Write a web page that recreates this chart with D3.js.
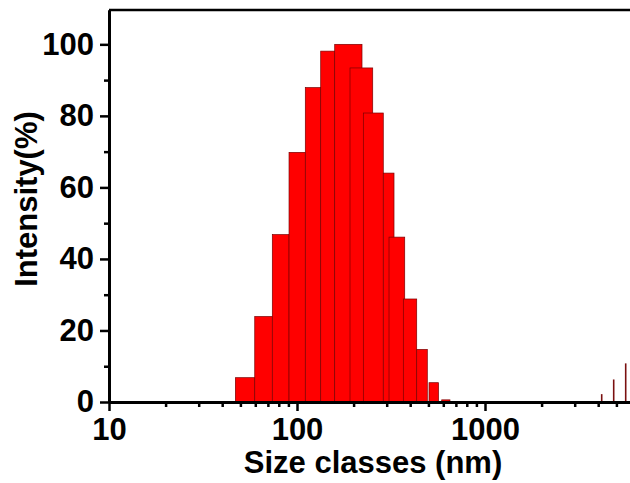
<!DOCTYPE html>
<html>
<head>
<meta charset="utf-8">
<style>
  html, body { margin: 0; padding: 0; background: #fff; }
  svg { display: block; }
  text { font-family: "Liberation Sans", Arial, sans-serif; font-weight: bold; }
</style>
</head>
<body>
<div id="chart"></div>
<script src="https://cdn.jsdelivr.net/npm/d3@7/dist/d3.min.js"></script>
<script>
// size bins (nm): left edge, right edge, intensity (%)
var binLo = [47, 59.6, 73.9, 90.7, 110.7, 133.7, 158.7, 191.4, 225.3, 287.7, 308.6, 367.7, 433.3, 503.7, 588.4];
var binHi = [59.6, 73.9, 90.7, 110.7, 133.7, 158.7, 221.7, 252.8, 287.7, 328.1, 374.1, 433.3, 493.3, 565.8, 651.3];
var intensity = [6.8, 23.9, 46.8, 69.8, 87.9, 98.1, 100, 93.4, 80.8, 64.0, 46.1, 28.8, 14.7, 5.4, 0.6];

// the thin spikes at large sizes
var spikeSize = [4176, 4837, 5603];
var spikeVal = [2.2, 6.3, 10.8];

var xMajor = [10, 100, 1000];
var xMinor = [20, 30, 40, 50, 60, 70, 80, 90, 200, 300, 400, 500, 600, 700, 800, 900,
              2000, 3000, 4000, 5000, 6000, 7000, 8000, 9000];
var yMajor = [0, 20, 40, 60, 80, 100];
var yMinor = [10, 30, 50, 70, 90];

var width = 630, height = 483;

var svg = d3.select("#chart").append("svg")
    .attr("width", width)
    .attr("height", height);

// log x axis: one decade = 188px, plot runs on past the right edge
var x = d3.scaleLog().domain([10, 10000]).range([109, 673]);
var y = d3.scaleLinear().domain([0, 109.6]).range([402, 10]);

var bins = binLo.map(function(lo, i) {
  return { lo: lo, hi: binHi[i], v: intensity[i] };
});

svg.append("g")
    .selectAll("rect")
    .data(bins)
    .enter().append("rect")
    .attr("x", function(d) { return x(d.lo); })
    .attr("width", function(d) { return x(d.hi) - x(d.lo); })
    .attr("y", function(d) { return y(d.v); })
    .attr("height", function(d) { return y(0) - y(d.v); })
    .attr("fill", "#ff0000")
    .attr("stroke", "#7a0000")
    .attr("stroke-width", 0.7);

svg.append("g")
    .selectAll("line")
    .data(spikeSize)
    .enter().append("line")
    .attr("x1", function(d) { return x(d); })
    .attr("x2", function(d) { return x(d); })
    .attr("y1", y(0))
    .attr("y2", function(d, i) { return y(spikeVal[i]); })
    .attr("stroke", "#7a1010")
    .attr("stroke-width", 1.6);

// top frame line
svg.append("line")
    .attr("x1", x(10)).attr("x2", x(10000))
    .attr("y1", y(109.6)).attr("y2", y(109.6))
    .attr("stroke", "#000")
    .attr("stroke-width", 2.5);

// x axis
var xMinorAxis = svg.append("g")
    .attr("transform", "translate(0," + y(0) + ")")
    .call(d3.axisBottom(x).tickValues(xMinor).tickSize(5).tickSizeOuter(0).tickFormat(""));
var xAxis = svg.append("g")
    .attr("transform", "translate(0," + y(0) + ")")
    .call(d3.axisBottom(x).tickValues(xMajor).tickSize(9).tickPadding(7).tickSizeOuter(0)
      .tickFormat(d3.format("d")));

// y axis
var yMinorAxis = svg.append("g")
    .attr("transform", "translate(" + x(10) + ",0)")
    .call(d3.axisLeft(y).tickValues(yMinor).tickSize(5).tickSizeOuter(0).tickFormat(""));
var yAxis = svg.append("g")
    .attr("transform", "translate(" + x(10) + ",0)")
    .call(d3.axisLeft(y).tickValues(yMajor).tickSize(9).tickPadding(6).tickSizeOuter(0));

svg.selectAll(".domain").attr("stroke", "#000").attr("stroke-width", 3);
svg.selectAll(".tick line").attr("stroke", "#000").attr("stroke-width", 2.5);
svg.selectAll(".tick text")
    .attr("fill", "#000")
    .style("font-size", "31px")
    .style("font-family", "'Liberation Sans', Arial, sans-serif")
    .style("font-weight", "bold");

// axis titles
svg.append("text")
    .attr("x", 373)
    .attr("y", 473)
    .attr("text-anchor", "middle")
    .style("font-size", "31px")
    .text("Size classes (nm)");

svg.append("text")
    .attr("transform", "translate(37,199) rotate(-90)")
    .attr("text-anchor", "middle")
    .style("font-size", "31px")
    .text("Intensity(%)");
</script>
</body>
</html>
